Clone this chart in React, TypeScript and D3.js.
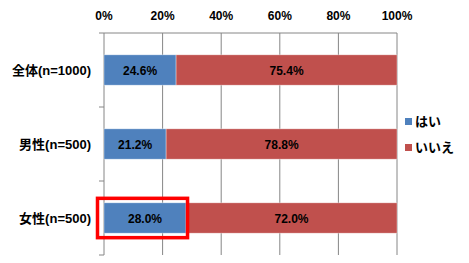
import React from "react";
import * as d3 from "d3";

const categories = ["全体(n=1000)", "男性(n=500)", "女性(n=500)"];
const yesValues = [24.6, 21.2, 28.0];
const noValues = [75.4, 78.8, 72.0];
const seriesNames = ["はい", "いいえ"];
const ticks = [0, 20, 40, 60, 80, 100];
const colors = ["#4F81BD", "#C0504D"];

const W = 469, H = 263;
const font = "'Liberation Sans', 'Noto Sans CJK JP', sans-serif";

export default function App() {
  const x = d3.scaleLinear().domain([0, 100]).range([104, 397]);
  const y = d3.scaleBand().domain(categories).range([33, 255]).paddingInner(0.59).paddingOuter(0.295);
  const outer = d3.scaleBand().domain(categories).range([33, 255]);
  return (
    <svg width={W} height={H} style={{ position: "absolute", left: 0, top: 0 }} fontFamily={font}>
      <rect width={W} height={H} fill="#fff" />
      {ticks.map((t) => (
        <g key={t}>
          <line x1={x(t)} x2={x(t)} y1={33} y2={255} stroke="#868686" strokeWidth={1} />
          <text x={x(t)} y={20} textAnchor="middle" fontSize={12} fontWeight="bold" fill="#000">{t}%</text>
        </g>
      ))}
      <line x1={99} x2={x(100)} y1={33} y2={33} stroke="#868686" />
      {categories.map((c) => (
        <line key={c} x1={99} x2={104} y1={(outer(c) as number) + outer.bandwidth()} y2={(outer(c) as number) + outer.bandwidth()} stroke="#868686" />
      ))}
      {categories.map((c, i) => {
        const y0 = y(c) as number;
        const bh = y.bandwidth();
        const segs = [
          { v0: 0, v1: yesValues[i], col: colors[0] },
          { v0: yesValues[i], v1: yesValues[i] + noValues[i], col: colors[1] },
        ];
        return (
          <g key={c}>
            {segs.map((s, j) => (
              <g key={j}>
                <rect x={x(s.v0)} y={y0} width={x(s.v1) - x(s.v0)} height={bh} fill={s.col} stroke="#fff" strokeOpacity={0.5} strokeWidth={0.7} />
                <text x={(x(s.v0) + x(s.v1)) / 2} y={y0 + bh / 2 + 4.5} textAnchor="middle" fontSize={12} fontWeight="bold" fill="#000">
                  {(s.v1 - s.v0).toFixed(1)}%
                </text>
              </g>
            ))}
            <text x={91} y={y0 + bh / 2 + 4.5} textAnchor="end" fontSize={13} fontWeight="bold" fill="#000">{c}</text>
          </g>
        );
      })}
      {(() => {
        const i = 2;
        const y0 = y(categories[i]) as number;
        return <rect x={97.5} y={y0 - 4.5} width={x(yesValues[i]) - 97.5 + 1.5} height={y.bandwidth() + 9} fill="none" stroke="#FF0000" strokeWidth={3.5} />;
      })()}
      {seriesNames.map((s, i) => (
        <g key={s}>
          <rect x={405} y={118 + i * 26} width={7} height={7} fill={colors[i]} />
          <text x={415} y={126 + i * 26} fontSize={13} fontWeight="bold" fill="#000">{s}</text>
        </g>
      ))}
    </svg>
  );
}
